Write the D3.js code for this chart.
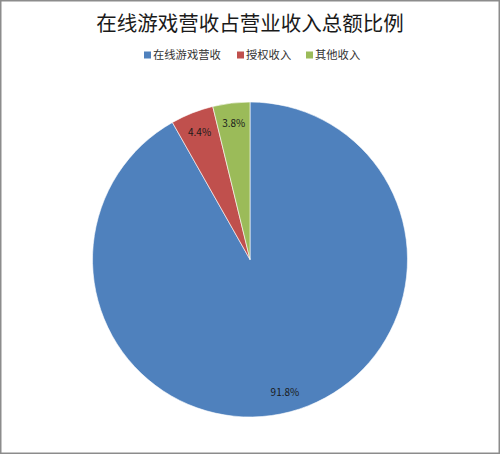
<!DOCTYPE html>
<html>
<head>
<meta charset="utf-8">
<script src="https://cdn.jsdelivr.net/npm/d3@7"></script>
<style>
  body { margin: 0; background: #fff; }
  text { font-family: "Noto Sans CJK SC", "Noto Sans", sans-serif; }
</style>
</head>
<body>
<div class="vis-pie"></div>
<script>
const title = '在线游戏营收占营业收入总额比例';
const categories = ['在线游戏营收', '授权收入', '其他收入'];
const values = [91.8, 4.4, 3.8];
const colors = ['#4F81BD', '#C0504D', '#9BBB59'];

const width = 500, height = 454;
const radius = 157.5;
const cx = 250, cy = 259.5;

const svg = d3.select('.vis-pie').append('svg')
    .attr('width', width)
    .attr('height', height);

// chart area border
svg.append('rect')
    .attr('x', 0.75).attr('y', 0.75)
    .attr('width', width - 1.5).attr('height', height - 1.5)
    .attr('fill', '#fff')
    .attr('stroke', '#8c8c8c')
    .attr('stroke-width', 1.5);

svg.append('text')
    .attr('x', width / 2)
    .attr('y', 31)
    .attr('text-anchor', 'middle')
    .style('font-size', '20.5px')
    .attr('fill', '#1a1a1a')
    .text(title);

// legend
const legendX = [144, 237, 306];
const legend = svg.append('g');
const item = legend.selectAll('g')
    .data(categories)
    .enter().append('g')
    .attr('transform', (d, i) => 'translate(' + legendX[i] + ',55)');
item.append('rect')
    .attr('x', 0).attr('y', -3.5)
    .attr('width', 7).attr('height', 7)
    .attr('fill', (d, i) => colors[i]);
item.append('text')
    .attr('x', 9)
    .attr('y', 4)
    .style('font-size', '11.3px')
    .attr('fill', '#333')
    .text(d => d);

// pie
const pie = d3.pie().sort(null).value(d => d);
const arcs = pie(values);
const arc = d3.arc().innerRadius(0).outerRadius(radius);

const g = svg.append('g')
    .attr('transform', 'translate(' + cx + ',' + cy + ')');

g.selectAll('path')
    .data(arcs)
    .enter().append('path')
    .attr('d', arc)
    .attr('fill', (d, i) => colors[i])
    .attr('stroke', '#fff')
    .attr('stroke-width', 0.6);

const labelArc = d3.arc().innerRadius(radius * 0.87).outerRadius(radius * 0.87);
g.selectAll('.label')
    .data(arcs)
    .enter().append('text')
    .attr('class', 'label')
    .attr('transform', d => 'translate(' + labelArc.centroid(d) + ')')
    .attr('text-anchor', 'middle')
    .attr('dy', '0.35em')
    .style('font-size', '10px')
    .attr('fill', '#1a1a1a')
    .text(d => d.data.toFixed(1) + '%');
</script>
</body>
</html>
